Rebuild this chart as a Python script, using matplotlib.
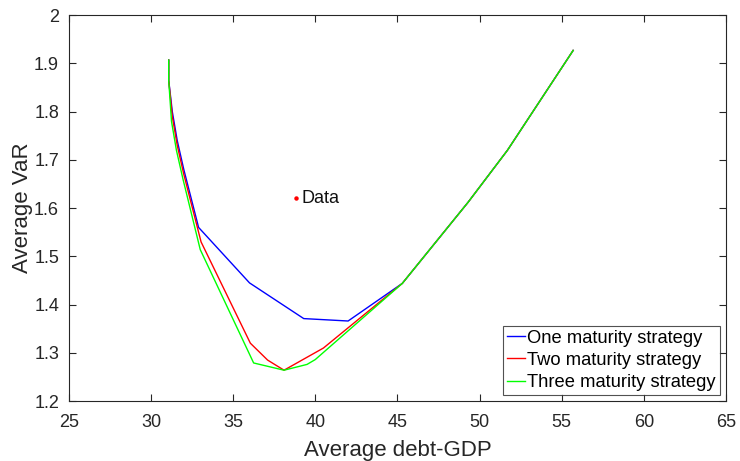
import matplotlib
matplotlib.use('Agg')

import matplotlib.pyplot as plt

plt.rcParams['font.family'] = ['Liberation Sans', 'DejaVu Sans']

# Data
one_x = [31.08, 31.08, 31.3, 31.6, 32.0, 32.9, 36.0, 39.3, 42.0, 45.3, 49.3, 51.7, 55.7]
one_y = [1.907, 1.865, 1.80, 1.74, 1.68, 1.56, 1.445, 1.371, 1.366, 1.444, 1.612, 1.72, 1.927]

two_x = [31.08, 31.08, 31.3, 31.6, 32.0, 33.05, 36.05, 37.1, 38.1, 40.5, 45.3, 49.3, 51.7, 55.7]
two_y = [1.907, 1.865, 1.79, 1.73, 1.67, 1.53, 1.32, 1.285, 1.264, 1.31, 1.444, 1.612, 1.72, 1.927]

three_x = [31.08, 31.08, 31.25, 31.55, 31.95, 33.0, 36.25, 38.1, 39.5, 40.0, 45.3, 49.3, 51.7, 55.7]
three_y = [1.907, 1.865, 1.78, 1.72, 1.66, 1.514, 1.279, 1.264, 1.276, 1.286, 1.444, 1.612, 1.72, 1.927]

data_x = [38.8]
data_y = [1.621]

fig = plt.figure(figsize=(7.4, 4.61), dpi=100)
ax = fig.add_axes([0.093, 0.130, 0.888, 0.837])

ax.plot(one_x, one_y, color='#0000ff', linewidth=1, label='One maturity strategy')
ax.plot(two_x, two_y, color='#ff0000', linewidth=1, label='Two maturity strategy')
ax.plot(three_x, three_y, color='#00ff00', linewidth=1, label='Three maturity strategy')
ax.plot(data_x, data_y, 'o', color='#ff0000', markersize=2.2)
ax.annotate('Data', xy=(data_x[0], data_y[0]), xytext=(4, 0),
            textcoords='offset points', va='center', ha='left', fontsize=13,
            color='#111111')

ax.set_xlim(25, 65)
ax.set_ylim(1.2, 2)
ax.set_xticks(range(25, 66, 5))
ax.set_yticks([1.2, 1.3, 1.4, 1.5, 1.6, 1.7, 1.8, 1.9, 2])
ax.set_yticklabels(['1.2', '1.3', '1.4', '1.5', '1.6', '1.7', '1.8', '1.9', '2'])

ax.tick_params(direction='in', top=True, right=True, length=5, width=0.8,
               labelsize=13, colors='#262626')
ax.tick_params(axis='x', pad=9)
ax.tick_params(axis='y', pad=7)
for s in ax.spines.values():
    s.set_color('#262626')
    s.set_linewidth(0.8)

ax.set_xlabel('Average debt-GDP', fontsize=16, color='#262626', labelpad=7)
ax.set_ylabel('Average VaR', fontsize=16, color='#262626', labelpad=1)

leg = ax.legend(loc='lower right', fontsize=13.2, frameon=True, fancybox=False,
                handlelength=1.0, handletextpad=0.1, borderpad=0.2,
                labelspacing=0.28, borderaxespad=0.35)
leg.get_frame().set_edgecolor('#262626')
leg.get_frame().set_linewidth(0.8)

plt.savefig('out.png', dpi=100)
plt.close()
